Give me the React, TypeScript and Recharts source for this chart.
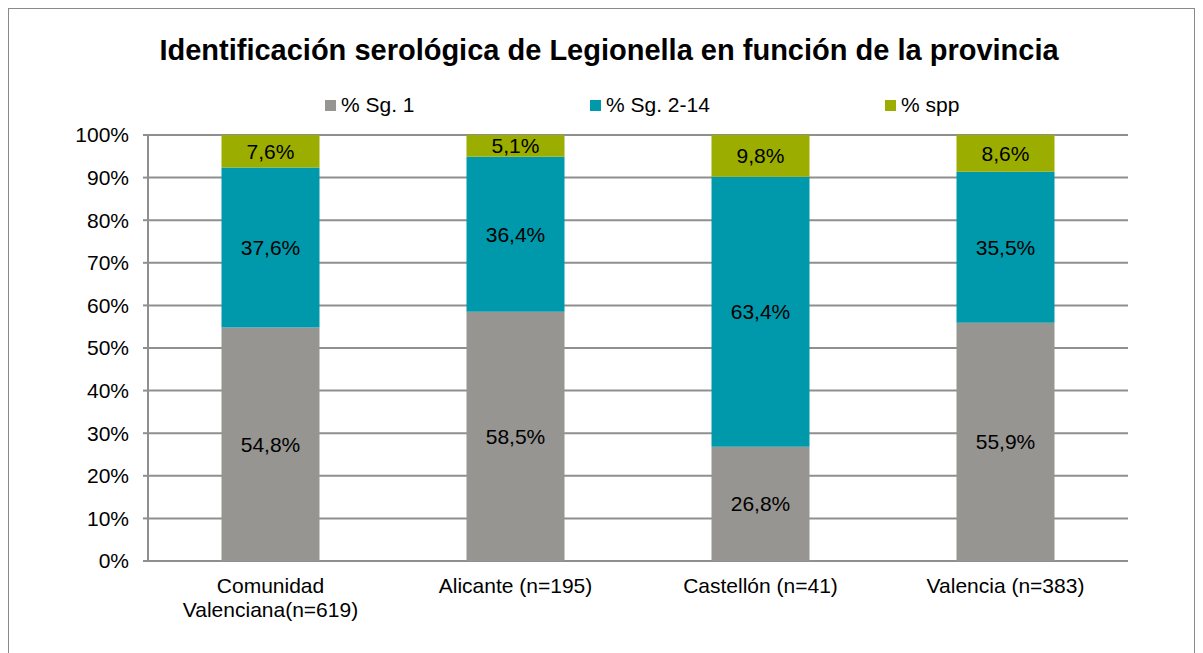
import React from 'react';
import { BarChart, Bar, XAxis, YAxis, CartesianGrid, LabelList } from 'recharts';

// Valores (porcentaje por provincia)
const provincias = ['Comunidad Valenciana(n=619)', 'Alicante (n=195)', 'Castellón (n=41)', 'Valencia (n=383)'];
const sg1 = [54.8, 58.5, 26.8, 55.9];
const sg214 = [37.6, 36.4, 63.4, 35.5];
const spp = [7.6, 5.1, 9.8, 8.6];
const yTicks = [0, 10, 20, 30, 40, 50, 60, 70, 80, 90, 100];
const edgeTicks = [0, 1, 2, 3, 4];

const series = [
  { key: 'sg1', name: '% Sg. 1', color: '#969591' },
  { key: 'sg214', name: '% Sg. 2-14', color: '#0099ab' },
  { key: 'spp', name: '% spp', color: '#9bae00' },
];

const data = provincias.map((p, i) => ({
  provincia: p,
  sg1: sg1[i],
  sg214: sg214[i],
  spp: spp[i],
}));

const FONT = '"Liberation Sans", Arial, sans-serif';
const GRID = '#8f8f8f';
const legendLefts = [316, 581, 876];

const fmt = (v: any) => `${Number(v).toFixed(1).replace('.', ',')}%`;

const CategoryTick = (props: any) => {
  const { x, y, payload } = props;
  const label: string = payload.value;
  // la etiqueta larga se parte en dos líneas como en el original
  const lines = label.length > 20 ? [label.slice(0, label.indexOf(' ')), label.slice(label.indexOf(' ') + 1)] : [label];
  return (
    <text x={x} y={y} textAnchor="middle" fontFamily={FONT} fontSize={21} fill="#000">
      {lines.map((l, i) => (
        <tspan key={i} x={x} dy={i === 0 ? 32 : 24}>{l}</tspan>
      ))}
    </text>
  );
};

const App: React.FC = () => {
  return (
    <>
      <style>{`body{margin:0;overflow:hidden;background:#fff}`}</style>
      <div
        style={{
          position: 'absolute',
          left: 8,
          top: 8,
          width: 1187,
          height: 660,
          borderTop: '1px solid #8a8a8a',
          borderLeft: '1px solid #8a8a8a',
          borderRight: '1px solid #8a8a8a',
          boxSizing: 'border-box',
          fontFamily: FONT,
        }}
      >
        <div
          style={{
            position: 'absolute',
            top: 25,
            left: 0,
            width: '100%',
            paddingLeft: 15,
            boxSizing: 'border-box',
            textAlign: 'center',
            fontSize: 29,
            fontWeight: 'bold',
            lineHeight: '32px',
            color: '#000',
          }}
        >
          Identificación serológica de Legionella en función de la provincia
        </div>
        {series.map((s, i) => (
          <div
            key={s.key}
            style={{
              position: 'absolute',
              top: 84,
              left: legendLefts[i],
              display: 'flex',
              alignItems: 'center',
              fontSize: 21,
              lineHeight: '24px',
              color: '#000',
            }}
          >
            <span style={{ width: 11, height: 11, background: s.color, marginRight: 5, display: 'inline-block' }} />
            {s.name}
          </div>
        ))}
        <BarChart
          width={1185}
          height={640}
          data={data}
          margin={{ top: 126, right: 66, bottom: 28, left: 79 }}
          barCategoryGap="30%"
        >
          <CartesianGrid vertical={false} stroke={GRID} strokeWidth={2} strokeDasharray="" />
          <XAxis
            xAxisId="edges"
            type="number"
            domain={[0, 4]}
            ticks={edgeTicks}
            allowDataOverflow
            height={0}
            tick={false}
            tickSize={7}
            axisLine={{ stroke: GRID, strokeWidth: 2 }}
            tickLine={{ stroke: GRID, strokeWidth: 2 }}
          />
          <XAxis
            dataKey="provincia"
            height={60}
            axisLine={false}
            tickLine={false}
            tickSize={0}
            tickMargin={0}
            interval={0}
            tick={<CategoryTick />}
          />
          <YAxis
            width={60}
            domain={[0, 100]}
            ticks={yTicks}
            allowDataOverflow
            tickFormatter={(v) => `${v}%`}
            tick={{ fill: '#000', fontSize: 21, fontFamily: FONT }}
            tickSize={5}
            tickMargin={14}
            axisLine={{ stroke: GRID, strokeWidth: 2 }}
            tickLine={{ stroke: GRID, strokeWidth: 2 }}
          />
          {series.map((s) => (
            <Bar key={s.key} dataKey={s.key} name={s.name} stackId="a" fill={s.color} isAnimationActive={false}>
              <LabelList dataKey={s.key} position="center" formatter={fmt} fill="#000" fontSize={21} fontFamily={FONT} />
            </Bar>
          ))}
        </BarChart>
      </div>
    </>
  );
};

export default App;
